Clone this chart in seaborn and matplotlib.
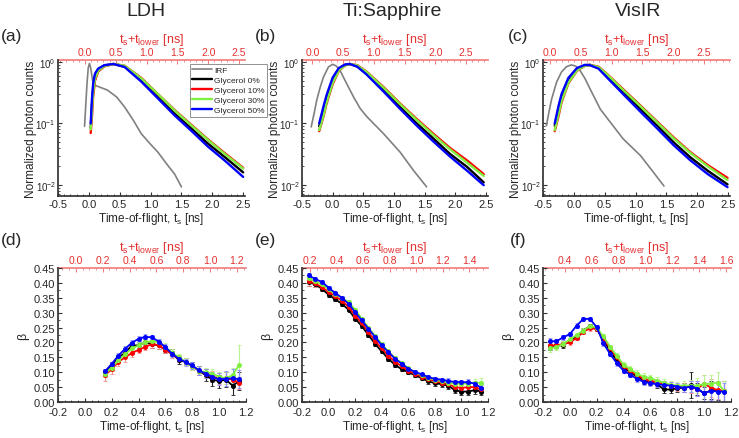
import matplotlib
matplotlib.use("Agg")
import matplotlib.pyplot as plt
import numpy as np
import pandas as pd
import seaborn as sns
from matplotlib.ticker import MultipleLocator, FormatStrFormatter, LogLocator, NullFormatter, FixedLocator

# ---------------- top row: normalized TOF curves ----------------
SERIES = ["IRF", "Glycerol 0%", "Glycerol 10%", "Glycerol 30%", "Glycerol 50%"]

# LDH
irf_a_t = [-0.07, -0.05, -0.03, -0.01, 0.01, 0.03, 0.06, 0.09, 0.15, 0.30, 0.45, 0.58, 0.72, 0.85, 0.99, 1.12, 1.26, 1.39, 1.50]
irf_a_v = [0.09, 0.20, 0.45, 0.80, 0.95, 0.80, 0.50, 0.42, 0.40, 0.35, 0.27, 0.185, 0.113, 0.068, 0.047, 0.034, 0.022, 0.015, 0.0093]
gly_a_t = [0.03, 0.05, 0.07, 0.10, 0.15, 0.25, 0.40, 0.58, 0.85, 1.12, 1.39, 1.66, 1.93, 2.20, 2.50]
gly_a_0 = [0.085, 0.20, 0.38, 0.60, 0.76, 0.88, 0.93, 0.84, 0.50, 0.27, 0.145, 0.083, 0.047, 0.0285, 0.016]
gly_a_10 = [0.07, 0.13, 0.28, 0.50, 0.70, 0.85, 0.93, 0.87, 0.55, 0.30, 0.165, 0.095, 0.055, 0.033, 0.019]
gly_a_30 = [0.08, 0.16, 0.32, 0.54, 0.72, 0.86, 0.93, 0.87, 0.54, 0.30, 0.162, 0.093, 0.054, 0.032, 0.0185]
gly_a_50 = [0.10, 0.25, 0.45, 0.65, 0.78, 0.89, 0.93, 0.83, 0.48, 0.255, 0.135, 0.076, 0.042, 0.025, 0.0135]

# Ti:Sapphire
irf_b_t = [-0.35, -0.30, -0.26, -0.20, -0.15, -0.07, 0.00, 0.06, 0.12, 0.23, 0.34, 0.45, 0.56, 0.83, 1.10, 1.32, 1.53]
irf_b_v = [0.088, 0.15, 0.24, 0.40, 0.57, 0.83, 0.92, 0.86, 0.73, 0.44, 0.27, 0.174, 0.128, 0.068, 0.034, 0.017, 0.0093]
gly_b_t = [-0.22, -0.15, -0.10, 0.00, 0.10, 0.20, 0.28, 0.40, 0.55, 0.83, 1.10, 1.37, 1.64, 1.91, 2.19, 2.46]
gly_b_0 = [0.09, 0.17, 0.26, 0.52, 0.77, 0.90, 0.93, 0.85, 0.65, 0.35, 0.185, 0.10, 0.057, 0.032, 0.0196, 0.011]
gly_b_10 = [0.075, 0.13, 0.21, 0.44, 0.72, 0.88, 0.93, 0.89, 0.70, 0.39, 0.21, 0.118, 0.068, 0.040, 0.025, 0.015]
gly_b_30 = [0.078, 0.135, 0.22, 0.46, 0.73, 0.88, 0.93, 0.88, 0.69, 0.38, 0.205, 0.114, 0.065, 0.038, 0.023, 0.014]
gly_b_50 = [0.10, 0.19, 0.29, 0.56, 0.80, 0.91, 0.93, 0.84, 0.63, 0.33, 0.172, 0.092, 0.051, 0.029, 0.017, 0.0099]

# VisIR
irf_c_t = [-0.445, -0.40, -0.36, -0.28, -0.20, -0.12, -0.04, 0.03, 0.10, 0.18, 0.26, 0.43, 0.59, 0.80, 1.08, 1.29, 1.46]
irf_c_v = [0.092, 0.16, 0.25, 0.47, 0.69, 0.84, 0.90, 0.86, 0.73, 0.54, 0.37, 0.17, 0.105, 0.056, 0.030, 0.016, 0.0096]
gly_c_t = [-0.31, -0.25, -0.20, -0.09, 0.05, 0.18, 0.26, 0.40, 0.53, 0.80, 1.08, 1.35, 1.62, 1.89, 2.17, 2.49]
gly_c_0 = [0.092, 0.17, 0.27, 0.51, 0.77, 0.89, 0.90, 0.80, 0.60, 0.32, 0.17, 0.092, 0.049, 0.028, 0.017, 0.0102]
gly_c_10 = [0.075, 0.13, 0.22, 0.45, 0.72, 0.87, 0.90, 0.84, 0.65, 0.36, 0.195, 0.107, 0.059, 0.034, 0.021, 0.013]
gly_c_30 = [0.078, 0.14, 0.23, 0.46, 0.73, 0.87, 0.90, 0.83, 0.64, 0.35, 0.19, 0.104, 0.057, 0.033, 0.020, 0.012]
gly_c_50 = [0.10, 0.19, 0.30, 0.55, 0.80, 0.90, 0.89, 0.78, 0.57, 0.30, 0.155, 0.083, 0.044, 0.025, 0.015, 0.0092]

# ---------------- bottom row: beta vs time-of-flight ----------------
t_d = [0.15, 0.20, 0.25, 0.30, 0.35, 0.40, 0.45, 0.50, 0.55, 0.60, 0.65, 0.70, 0.75, 0.80, 0.85, 0.90, 0.95, 1.00, 1.05, 1.10, 1.15]
beta_d_0 = [0.100, 0.125, 0.150, 0.165, 0.190, 0.190, 0.200, 0.195, 0.190, 0.175, 0.165, 0.140, 0.135, 0.120, 0.105, 0.090, 0.075, 0.070, 0.075, 0.055, 0.070]
beta_d_10 = [0.090, 0.110, 0.135, 0.150, 0.165, 0.175, 0.185, 0.195, 0.190, 0.175, 0.160, 0.145, 0.135, 0.120, 0.105, 0.095, 0.085, 0.080, 0.080, 0.075, 0.065]
beta_d_30 = [0.095, 0.115, 0.140, 0.160, 0.180, 0.190, 0.200, 0.205, 0.200, 0.185, 0.165, 0.150, 0.135, 0.120, 0.105, 0.100, 0.095, 0.085, 0.080, 0.090, 0.125]
beta_d_50 = [0.103, 0.128, 0.156, 0.179, 0.199, 0.212, 0.219, 0.217, 0.203, 0.184, 0.162, 0.145, 0.134, 0.123, 0.106, 0.095, 0.084, 0.076, 0.078, 0.080, 0.076]
err_d_0 = [0.008, 0.008, 0.008, 0.010, 0.010, 0.010, 0.010, 0.012, 0.012, 0.012, 0.012, 0.012, 0.012, 0.014, 0.016, 0.020, 0.020, 0.022, 0.025, 0.030, 0.030]
err_d_10 = [0.020, 0.015, 0.015, 0.015, 0.015, 0.012, 0.012, 0.012, 0.012, 0.012, 0.012, 0.012, 0.012, 0.012, 0.015, 0.015, 0.018, 0.018, 0.020, 0.020, 0.020]
err_d_30 = [0.010, 0.010, 0.010, 0.010, 0.010, 0.010, 0.010, 0.010, 0.010, 0.012, 0.012, 0.012, 0.012, 0.012, 0.012, 0.015, 0.015, 0.015, 0.020, 0.025, 0.065]
err_d_50 = [0.008, 0.008, 0.008, 0.008, 0.008, 0.008, 0.008, 0.008, 0.008, 0.010, 0.010, 0.010, 0.012, 0.012, 0.015, 0.015, 0.018, 0.020, 0.025, 0.030, 0.030]

t_ef = [-0.15, -0.10, -0.05, 0.00, 0.05, 0.10, 0.15, 0.20, 0.25, 0.30, 0.35, 0.40, 0.45, 0.50,
        0.55, 0.60, 0.65, 0.70, 0.75, 0.80, 0.85, 0.90, 0.95, 1.00, 1.05, 1.10, 1.15]
beta_e_0 = [0.403, 0.395, 0.380, 0.360, 0.345, 0.330, 0.310, 0.280, 0.255, 0.225, 0.195, 0.170, 0.145, 0.125,
            0.110, 0.100, 0.090, 0.080, 0.070, 0.063, 0.060, 0.055, 0.040, 0.035, 0.035, 0.040, 0.035]
beta_e_10 = [0.405, 0.398, 0.385, 0.370, 0.355, 0.340, 0.320, 0.290, 0.265, 0.235, 0.205, 0.180, 0.155, 0.135,
             0.120, 0.105, 0.095, 0.085, 0.078, 0.070, 0.065, 0.060, 0.050, 0.047, 0.050, 0.050, 0.042]
beta_e_30 = [0.415, 0.405, 0.395, 0.378, 0.362, 0.350, 0.335, 0.310, 0.280, 0.250, 0.222, 0.195, 0.170, 0.148,
             0.130, 0.113, 0.100, 0.090, 0.082, 0.075, 0.070, 0.065, 0.062, 0.062, 0.062, 0.065, 0.065]
beta_e_50 = [0.425, 0.413, 0.403, 0.384, 0.366, 0.350, 0.330, 0.302, 0.274, 0.246, 0.218, 0.190, 0.168, 0.145,
             0.129, 0.112, 0.101, 0.093, 0.084, 0.078, 0.075, 0.071, 0.067, 0.067, 0.066, 0.062, 0.047]
err_e_0 = [0.015, 0.010, 0.008, 0.008, 0.006, 0.006, 0.006, 0.006, 0.006, 0.006, 0.006, 0.006, 0.006, 0.006,
           0.006, 0.006, 0.006, 0.006, 0.008, 0.008, 0.008, 0.010, 0.010, 0.010, 0.012, 0.012, 0.012]
err_e_10 = [0.015, 0.012, 0.008, 0.008, 0.006, 0.006, 0.006, 0.006, 0.006, 0.006, 0.006, 0.006, 0.006, 0.006,
            0.006, 0.006, 0.006, 0.006, 0.008, 0.008, 0.008, 0.010, 0.010, 0.010, 0.010, 0.010, 0.010]
err_e_30 = [0.008, 0.008, 0.006, 0.006, 0.006, 0.006, 0.006, 0.006, 0.006, 0.006, 0.006, 0.006, 0.006, 0.006,
            0.006, 0.006, 0.006, 0.006, 0.006, 0.008, 0.008, 0.008, 0.010, 0.010, 0.010, 0.012, 0.015]
err_e_50 = [0.008, 0.008, 0.006, 0.006, 0.006, 0.006, 0.006, 0.006, 0.006, 0.006, 0.006, 0.006, 0.006, 0.006,
            0.006, 0.006, 0.006, 0.006, 0.006, 0.006, 0.006, 0.008, 0.008, 0.008, 0.010, 0.010, 0.010]

beta_f_0 = [0.185, 0.190, 0.190, 0.205, 0.220, 0.240, 0.255, 0.245, 0.210, 0.170, 0.140, 0.115, 0.100, 0.085,
            0.072, 0.066, 0.060, 0.042, 0.042, 0.046, 0.048, 0.057, 0.044, 0.029, 0.039, 0.037, 0.036]
beta_f_10 = [0.190, 0.190, 0.195, 0.200, 0.215, 0.235, 0.248, 0.245, 0.215, 0.180, 0.150, 0.120, 0.105, 0.090,
             0.078, 0.072, 0.066, 0.060, 0.055, 0.050, 0.050, 0.050, 0.045, 0.062, 0.048, 0.040, 0.037]
beta_f_30 = [0.180, 0.185, 0.195, 0.210, 0.225, 0.240, 0.255, 0.250, 0.220, 0.185, 0.155, 0.125, 0.110, 0.095,
             0.085, 0.080, 0.072, 0.065, 0.058, 0.055, 0.055, 0.055, 0.055, 0.060, 0.062, 0.065, 0.036]
beta_f_50 = [0.204, 0.204, 0.217, 0.228, 0.256, 0.279, 0.279, 0.251, 0.197, 0.161, 0.130, 0.105, 0.092, 0.077,
             0.068, 0.063, 0.060, 0.057, 0.055, 0.052, 0.047, 0.052, 0.045, 0.029, 0.038, 0.035, 0.035]
err_f_0 = [0.010, 0.010, 0.010, 0.008, 0.008, 0.008, 0.008, 0.008, 0.008, 0.008, 0.008, 0.008, 0.010, 0.010,
           0.010, 0.010, 0.012, 0.012, 0.012, 0.012, 0.015, 0.045, 0.020, 0.020, 0.030, 0.030, 0.035]
err_f_10 = [0.012, 0.010, 0.010, 0.010, 0.008, 0.008, 0.008, 0.008, 0.008, 0.008, 0.008, 0.008, 0.010, 0.010,
            0.010, 0.010, 0.012, 0.012, 0.012, 0.012, 0.015, 0.020, 0.025, 0.030, 0.030, 0.030, 0.035]
err_f_30 = [0.012, 0.010, 0.010, 0.010, 0.008, 0.008, 0.008, 0.008, 0.008, 0.008, 0.008, 0.008, 0.010, 0.012,
            0.012, 0.012, 0.012, 0.012, 0.012, 0.012, 0.015, 0.020, 0.025, 0.030, 0.030, 0.035, 0.035]
err_f_50 = [0.010, 0.008, 0.008, 0.008, 0.008, 0.008, 0.008, 0.008, 0.008, 0.008, 0.008, 0.008, 0.008, 0.010,
            0.010, 0.010, 0.010, 0.012, 0.012, 0.012, 0.015, 0.020, 0.025, 0.030, 0.030, 0.030, 0.030]

TITLES = ["LDH", "Ti:Sapphire", "VisIR"]
PANELS = ["(a)", "(b)", "(c)", "(d)", "(e)", "(f)"]
T_LOWER = [0.065, 0.33, 0.39, 0.067, 0.34, 0.435]

# red top-axis tick labels of each panel
TOP_TICKS = [
    [0.0, 0.5, 1.0, 1.5, 2.0, 2.5],
    [0.0, 0.5, 1.0, 1.5, 2.0, 2.5],
    [0.0, 0.5, 1.0, 1.5, 2.0, 2.5],
    [0.0, 0.2, 0.4, 0.6, 0.8, 1.0, 1.2],
    [0.2, 0.4, 0.6, 0.8, 1.0, 1.2, 1.4],
    [0.4, 0.6, 0.8, 1.0, 1.2, 1.4, 1.6],
]

COLORS = {"IRF": "#808080", "Glycerol 0%": "#000000", "Glycerol 10%": "#FF0000",
          "Glycerol 30%": "#80F040", "Glycerol 50%": "#0000FF"}
ERR_COLORS = {"Glycerol 0%": "#202020", "Glycerol 10%": "#F49090",
              "Glycerol 30%": "#B8F490", "Glycerol 50%": "#8C8CFF"}
RED = "#E53030"
RED_SPINE = "#F08080"

sns.set_theme(style="ticks")
plt.rcParams["font.family"] = ["Liberation Sans", "DejaVu Sans"]
plt.rcParams["mathtext.fontset"] = "custom"
plt.rcParams["mathtext.rm"] = "Liberation Sans"
plt.rcParams["mathtext.it"] = "Liberation Sans"
plt.rcParams["mathtext.bf"] = "Liberation Sans:bold"
plt.rcParams["axes.unicode_minus"] = False

W, H = 739, 439
fig = plt.figure(figsize=(W / 100, H / 100), dpi=100)


def rect(l, t, r, b):
    return [l / W, 1 - b / H, (r - l) / W, (b - t) / H]


boxes = [(58, 61, 245, 197), (302, 61, 488, 197), (543, 61, 730, 197),
         (58, 269, 246, 403), (302, 269, 488, 403), (543, 269, 731, 403)]
axes = [fig.add_axes(rect(*b)) for b in boxes]


def style_axes(ax, off, top_ticks, top_row):
    for s in ["top", "right"]:
        ax.spines[s].set_visible(False)
    ax.spines["left"].set_color("#333333")
    ax.spines["bottom"].set_color("#333333")
    ax.tick_params(which="both", direction="in", top=False, right=False, labelsize=8, pad=2,
                   color="#333333")
    ax.tick_params(which="major", length=3, width=0.8)
    ax.tick_params(which="minor", length=1.5, width=0.6)
    sec = ax.secondary_xaxis("top", functions=(lambda x, o=off: x + o, lambda x, o=off: x - o))
    sec.spines["top"].set_color(RED_SPINE)
    sec.tick_params(which="both", direction="in", colors=RED_SPINE, labelcolor=RED, labelsize=7.5, pad=2)
    sec.tick_params(which="major", length=3, width=0.8)
    sec.tick_params(which="minor", length=1.5, width=0.6)
    sec.set_xlabel(r"$t_s$+$t_{lower}$ [ns]", color=RED, fontsize=9, labelpad=3.5)
    sec.xaxis.set_major_locator(FixedLocator(top_ticks))
    sec.xaxis.set_major_formatter(FormatStrFormatter("%.1f"))
    ax.xaxis.set_major_formatter(FormatStrFormatter("%.1f"))
    ax.set_xlabel(r"Time-of-flight, $t_s$ [ns]", fontsize=8.5, labelpad=1)
    if top_row:
        ax.set_xlim(-0.5, 2.53)
        ax.xaxis.set_major_locator(FixedLocator([-0.5, 0.0, 0.5, 1.0, 1.5, 2.0, 2.5]))
        ax.xaxis.set_minor_locator(MultipleLocator(0.1))
        sec.xaxis.set_minor_locator(MultipleLocator(0.1))
        ax.set_yscale("log")
        ax.set_ylim(0.0066, 1.08)
        ax.yaxis.set_major_locator(LogLocator(base=10))
        ax.yaxis.set_minor_locator(LogLocator(base=10, subs=np.arange(2, 10)))
        ax.yaxis.set_minor_formatter(NullFormatter())
        ax.tick_params(axis="y", labelsize=7, pad=1.5)
        ax.set_ylabel("Normalized photon counts", fontsize=8.5)
        ax.yaxis.set_label_coords(-0.113, 0.5)
    else:
        ax.set_xlim(-0.2, 1.2)
        ax.xaxis.set_major_locator(FixedLocator([-0.2, 0.0, 0.2, 0.4, 0.6, 0.8, 1.0, 1.2]))
        ax.xaxis.set_minor_locator(MultipleLocator(0.05))
        sec.xaxis.set_minor_locator(MultipleLocator(0.05))
        ax.tick_params(axis="x", pad=3.5)
        ax.set_ylim(0, 0.45)
        ax.yaxis.set_major_locator(MultipleLocator(0.05))
        ax.yaxis.set_minor_locator(MultipleLocator(0.025))
        ax.yaxis.set_major_formatter(FormatStrFormatter("%.2f"))
        ax.set_ylabel("β", fontsize=9, labelpad=3)


# top row
top_data = [
    (irf_a_t, irf_a_v, gly_a_t, [gly_a_0, gly_a_10, gly_a_30, gly_a_50]),
    (irf_b_t, irf_b_v, gly_b_t, [gly_b_0, gly_b_10, gly_b_30, gly_b_50]),
    (irf_c_t, irf_c_v, gly_c_t, [gly_c_0, gly_c_10, gly_c_30, gly_c_50]),
]
for i, (it, iv, gt, gvals) in enumerate(top_data):
    ax = axes[i]
    frames = [pd.DataFrame({"t": it, "v": iv, "series": "IRF"})]
    for name, vals in zip(SERIES[1:], gvals):
        frames.append(pd.DataFrame({"t": gt, "v": vals, "series": name}))
    df = pd.concat(frames, ignore_index=True)
    sns.lineplot(data=df[df.series == "IRF"], x="t", y="v", color=COLORS["IRF"], linewidth=1.2,
                 estimator=None, sort=False, ax=ax, label="IRF", legend=False)
    for name in SERIES[1:]:
        sns.lineplot(data=df[df.series == name], x="t", y="v", color=COLORS[name], linewidth=1.7,
                     estimator=None, sort=False, ax=ax, label=name, legend=False)
    style_axes(ax, T_LOWER[i], TOP_TICKS[i], True)

handles, labels = axes[0].get_legend_handles_labels()
leg = axes[0].legend(handles, labels, loc="upper left", bbox_to_anchor=(190 / W, 1 - 65 / H),
                     bbox_transform=fig.transFigure, fontsize=6, frameon=True, fancybox=False,
                     edgecolor="#909090", framealpha=1, borderpad=0.3, labelspacing=0.25,
                     handlelength=2.3, handletextpad=0.3, borderaxespad=0)
leg.get_frame().set_linewidth(0.7)

# bottom row
bottom_data = [
    (t_d, [beta_d_0, beta_d_10, beta_d_30, beta_d_50], [err_d_0, err_d_10, err_d_30, err_d_50]),
    (t_ef, [beta_e_0, beta_e_10, beta_e_30, beta_e_50], [err_e_0, err_e_10, err_e_30, err_e_50]),
    (t_ef, [beta_f_0, beta_f_10, beta_f_30, beta_f_50], [err_f_0, err_f_10, err_f_30, err_f_50]),
]
for j, (tt, betas, errs) in enumerate(bottom_data):
    ax = axes[3 + j]
    for name, b, e in zip(SERIES[1:], betas, errs):
        ax.errorbar(tt, b, yerr=e, fmt="none", ecolor=ERR_COLORS[name], elinewidth=0.8,
                    capsize=1.5, capthick=0.6, zorder=1)
    for name, b in zip(SERIES[1:], betas):
        sns.lineplot(x=tt, y=b, color=COLORS[name], linewidth=1.3, marker="o", markersize=3.6,
                     markeredgewidth=0, estimator=None, sort=False, ax=ax, zorder=2)
    style_axes(ax, T_LOWER[3 + j], TOP_TICKS[3 + j], False)

# titles and panel labels
for x, title in zip([146, 392, 638], TITLES):
    fig.text(x / W, 1 - 11 / H, title, ha="center", va="center", fontsize=14)
for (x, y), lab in zip([(12, 37), (265, 37), (518, 37), (12, 241), (265, 241), (518, 241)], PANELS):
    fig.text(x / W, 1 - y / H, lab, ha="center", va="center", fontsize=12.5)

fig.savefig("out.png", dpi=100)
